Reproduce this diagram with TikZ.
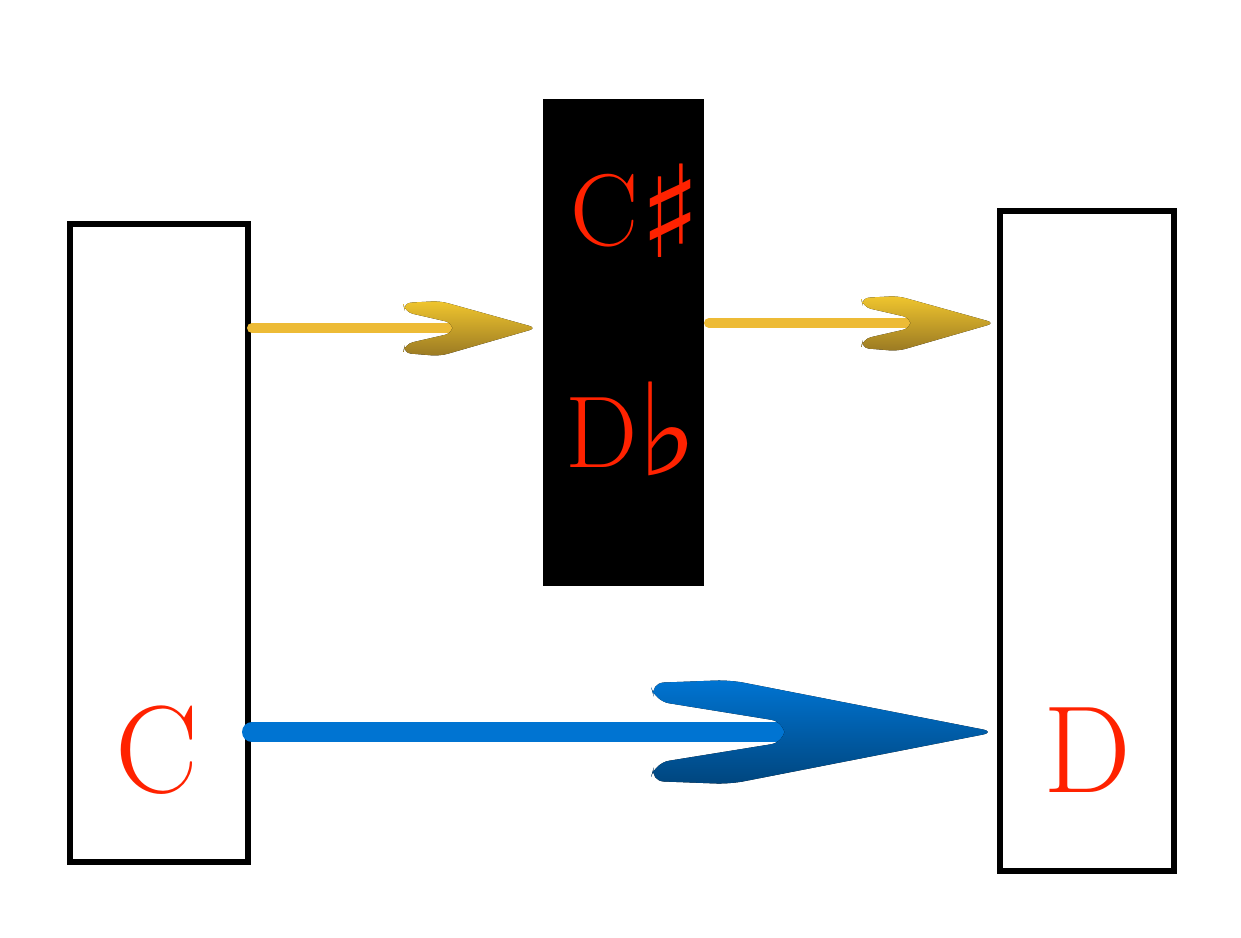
\documentclass[tikz,border=0pt]{standalone}
\usepackage{fontspec}
\newfontfamily\symfont{DejaVu Sans}
\begin{document}
\begin{tikzpicture}[x=0.5pt,y=-0.5pt,
  keybox/.style={draw=black,line width=3pt,fill=white,inner sep=0pt},
  blackkey/.style={fill=black,inner sep=0pt},
  notelbl/.style={text=notered,inner sep=0pt},
  goldshaft/.style={line width=5pt,line cap=round,draw=arrowgold},
  goldhead/.style={rounded corners=4pt,top color=arrowgold!85!yellow,bottom color=arrowgold!65!black},
  blueshaft/.style={line width=10pt,line cap=round,draw=arrowblue},
  bluehead/.style={rounded corners=7pt,top color=arrowblue,bottom color=arrowblue!60!black}]
\definecolor{notered}{HTML}{FF2200}
\definecolor{arrowgold}{HTML}{EDBB36}
\definecolor{arrowblue}{HTML}{0074D2}
\useasboundingbox (0,0) rectangle (1241,937);
\fill[white] (0,0) rectangle (1241,937);
% keys
\node[keybox,minimum width=89pt,minimum height=319pt] (cbox) at (159,543) {};
\node[keybox,minimum width=87pt,minimum height=330pt] (dbox) at (1086.5,540.5) {};
\node[blackkey,minimum width=80.5pt,minimum height=243.5pt] (cs) at (623.5,342.5) {};
% labels
\node[notelbl,font=\fontsize{62}{62}\selectfont] (clbl) at (157,750) {C};
\node[notelbl,font=\fontsize{62}{62}\selectfont] (dlbl) at (1087,750) {D};
\node[notelbl,font=\fontsize{51}{51}\selectfont,anchor=base] (cslbl) at (636,245) {C\raisebox{-6pt}{\symfont\fontsize{64}{64}\selectfont ♯}};
\node[notelbl,font=\fontsize{51}{51}\selectfont,anchor=base] (dblbl) at (632,467) {D\raisebox{-4pt}{\symfont\fontsize{64}{64}\selectfont ♭}};
% gold arrow 1
\coordinate (g1s) at (252,328);
\coordinate (g1t) at (537,328);
\draw[goldshaft] (g1s) -- (455,328);
\fill[goldhead] (g1t) -- (440,301) -- (403,303) -- (405,312) -- (453,323) -- (453,333) -- (405,344) -- (403,353) -- (440,356) -- cycle;
% gold arrow 2
\coordinate (g2s) at (709,323);
\coordinate (g2t) at (995,323);
\draw[goldshaft] (g2s) -- (913,323);
\fill[goldhead] (g2t) -- (898,296) -- (861,298) -- (863,307) -- (911,318) -- (911,328) -- (863,339) -- (861,348) -- (898,351) -- cycle;
% blue arrow
\coordinate (bs) at (252,732);
\coordinate (bt) at (996,732);
\draw[blueshaft] (bs) -- (785,732);
\fill[bluehead] (bt) -- (730,680) -- (650,683) -- (655,701) -- (785,722) -- (785,742) -- (655,763) -- (650,781) -- (730,784) -- cycle;
\end{tikzpicture}
\end{document}
